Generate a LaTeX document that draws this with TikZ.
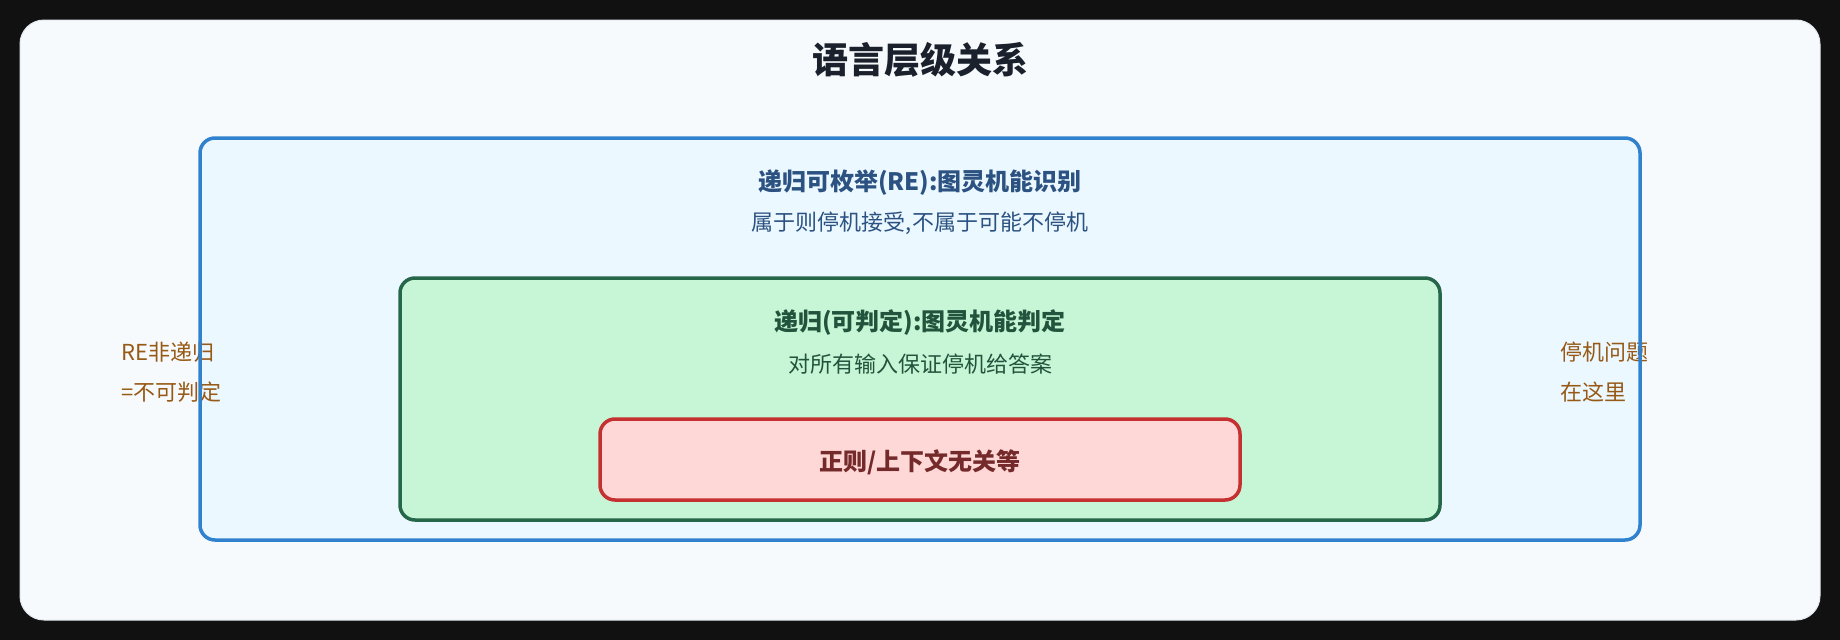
\documentclass[tikz,border=0pt]{standalone}
\usepackage{fontspec}
\setmainfont{Noto Sans CJK SC}
\definecolor{pagebg}{HTML}{111111}
\definecolor{cardbg}{HTML}{F7FAFC}
\definecolor{cardln}{HTML}{E2E8F0}
\definecolor{bluefill}{HTML}{EBF8FF}
\definecolor{blueln}{HTML}{3182CE}
\definecolor{bluetx}{HTML}{2C5282}
\definecolor{greenfill}{HTML}{C6F6D5}
\definecolor{greenln}{HTML}{276749}
\definecolor{greentx}{HTML}{22543D}
\definecolor{redfill}{HTML}{FED7D7}
\definecolor{redln}{HTML}{C53030}
\definecolor{redtx}{HTML}{742A2A}
\definecolor{titletx}{HTML}{1A202C}
\definecolor{browntx}{HTML}{975A16}
\tikzset{
  boxbase/.style={rectangle, rounded corners=15pt, inner sep=0pt, outer sep=0pt, line width=3.5pt},
  cardbox/.style={rectangle, rounded corners=24pt, inner sep=0pt, outer sep=0pt, fill=cardbg, draw=cardln, line width=1pt},
  rebox/.style={boxbase, fill=bluefill},
  reborder/.style={draw=blueln, line width=3.5pt, rounded corners=15pt},
  recbox/.style={boxbase, fill=greenfill, draw=greenln},
  regbox/.style={boxbase, fill=redfill, draw=redln},
  txt/.style={inner sep=0pt, outer sep=0pt, anchor=base},
  headtx/.style={txt, font=\fontsize{24}{28}\selectfont\bfseries},
  subtx/.style={txt, font=\fontsize{22}{26}\selectfont},
  sidetx/.style={inner sep=0pt, outer sep=0pt, anchor=base west, text=browntx, font=\fontsize{22}{26}\selectfont},
}
\begin{document}
\begin{tikzpicture}[x=1pt,y=-1pt]
\fill[pagebg] (0,0) rectangle (1840,640);
\useasboundingbox (0,0) rectangle (1840,640);
\node[cardbox, minimum width=1800pt, minimum height=600pt] (card) at (920,320) {};
\node[txt, text=titletx, font=\fontsize{36}{42}\selectfont\bfseries] (title) at (920,73.7) {语言层级关系};
% RE box
\node[rebox, minimum width=1440pt, minimum height=402pt] (re) at (920,339) {};
\node[headtx, text=bluetx] (retitle) at (920,190.8) {递归可枚举(RE):图灵机能识别};
\node[subtx, text=bluetx] (resub) at (920,230.2) {属于则停机接受,不属于可能不停机};
% side notes
\node[sidetx] (left1) at (121.7,360.4) {RE非递归};
\node[sidetx] (left2) at (121.7,400.9) {=不可判定};
\node[sidetx] (right1) at (1560.7,360.4) {停机问题};
\node[sidetx] (right2) at (1560.7,400.9) {在这里};
\draw[reborder] (re.north west) rectangle (re.south east);
% recursive box
\node[recbox, minimum width=1040pt, minimum height=242pt] (rec) at (920,399) {};
\node[headtx, text=greentx] (rectitle) at (920,330.8) {递归(可判定):图灵机能判定};
\node[subtx, text=greentx] (recsub) at (920,372.5) {对所有输入保证停机给答案};
% regular box
\node[regbox, minimum width=640pt, minimum height=81pt] (reg) at (920,459.5) {};
\node[headtx, text=redtx] (regtitle) at (920,470.8) {正则/上下文无关等};
\end{tikzpicture}
\end{document}
